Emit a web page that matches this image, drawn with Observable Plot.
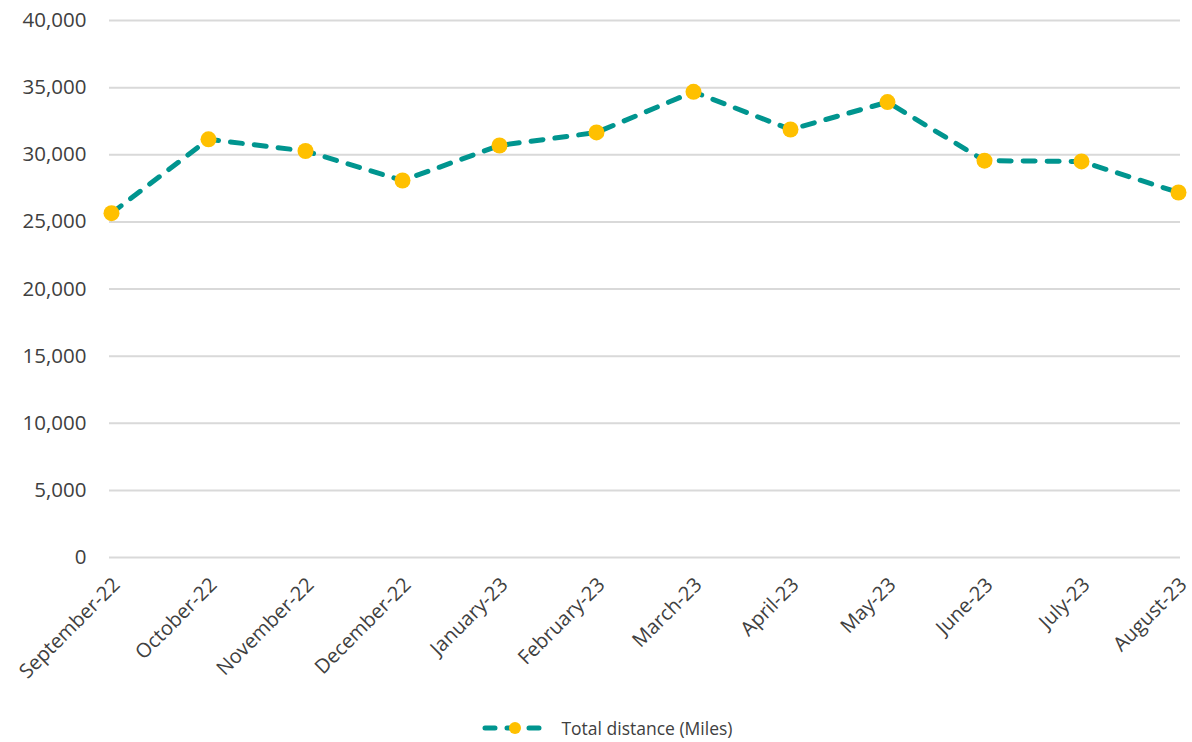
<!DOCTYPE html>
<html>
<head>
<meta charset="utf-8">
<script src="https://cdn.jsdelivr.net/npm/d3@7"></script>
<script src="https://cdn.jsdelivr.net/npm/@observablehq/plot@0.6"></script>
<style>
  body { margin: 0; background: #fff; font-family: "Open Sans", sans-serif; }
  #chart svg { display: block; }
  .legend { display: flex; justify-content: center; align-items: center; height: 56px; font-size: 17.5px; color: #404040; padding-left: 22px; }
  .legend svg { margin-right: 12px; }
</style>
</head>
<body>
<div id="chart"></div>
<div class="legend">
  <svg width="68" height="14">
    <line x1="4" y1="7" x2="64" y2="7" stroke="#00958F" stroke-width="5" stroke-linecap="round" stroke-dasharray="10 12"></line>
    <circle cx="34" cy="7" r="6" fill="#FFC000"></circle>
  </svg>
  <span>Total distance (Miles)</span>
</div>
<script>
const months = ["September-22","October-22","November-22","December-22","January-23","February-23","March-23","April-23","May-23","June-23","July-23","August-23"];
const distance = [25650, 31150, 30280, 28080, 30690, 31660, 34690, 31880, 33920, 29560, 29500, 27190];
const yTicks = [0, 5000, 10000, 15000, 20000, 25000, 30000, 35000, 40000];
const seriesName = "Total distance (Miles)";

const data = months.map((m, i) => ({month: m, value: distance[i]}));

const chart = Plot.plot({
  width: 1192,
  height: 700,
  marginLeft: 109,
  marginRight: 12,
  marginTop: 20,
  marginBottom: 143,
  style: {fontFamily: "Open Sans, sans-serif", fontSize: "20px", color: "#404040", background: "#fff"},
  x: {type: "point", domain: months, padding: 0, label: null},
  y: {domain: [0, 40000], label: null},
  marks: [
    Plot.gridY(yTicks, {stroke: "#d9d9d9", strokeOpacity: 1, strokeWidth: 2}),
    Plot.axisY(yTicks, {tickSize: 0, tickPadding: 23, tickFormat: d3.format(","), fontSize: 20.5, label: null}),
    Plot.axisX(months, {tickSize: 0, tickRotate: -45, tickPadding: 24, dx: 5, fontSize: 20, label: null, textAnchor: "end"}),
    Plot.line(data, {x: "month", y: "value", stroke: "#00958F", strokeWidth: 5, strokeDasharray: "12 12", strokeLinecap: "round"}),
    Plot.dot(data, {x: "month", y: "value", r: 8, fill: "#FFC000", stroke: null})
  ]
});
document.getElementById("chart").appendChild(chart);
</script>
</body>
</html>
